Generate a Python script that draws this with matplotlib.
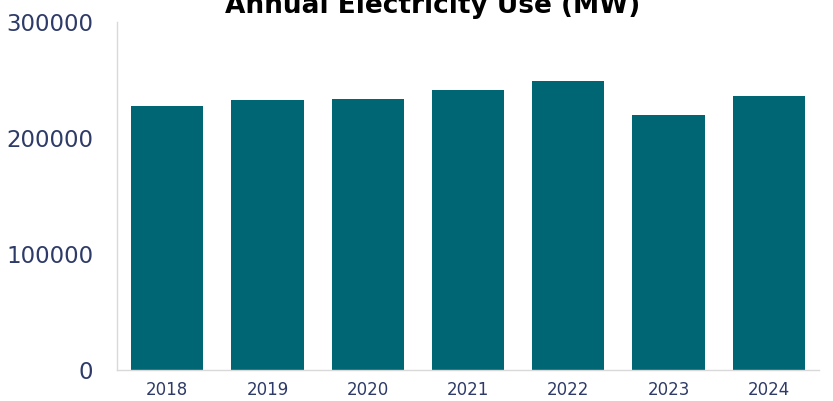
import matplotlib.pyplot as plt

years = ["2018", "2019", "2020", "2021", "2022", "2023", "2024"]
usage_mw = [228000, 232500, 233600, 241600, 248900, 219500, 236200]
y_ticks = [0, 100000, 200000, 300000]

BAR_COLOR = "#006674"
TEXT_NAVY = "#2e3b68"

fig = plt.figure(figsize=(8.33, 4.01), dpi=100)
ax = fig.add_axes([0.1405, 0.0773, 0.8425, 0.8677])

ax.bar(range(len(years)), usage_mw, width=0.72, color=BAR_COLOR)
ax.set_xlim(-0.5, len(years) - 0.5)
ax.set_ylim(0, 300000)

ax.set_yticks(y_ticks)
ax.set_yticklabels([str(v) for v in y_ticks])
ax.set_xticks(range(len(years)))
ax.set_xticklabels(years)

ax.tick_params(axis="y", length=0, pad=17, labelsize=16.5, labelcolor=TEXT_NAVY)
ax.tick_params(axis="x", length=0, pad=8, labelsize=12, labelcolor=TEXT_NAVY)

for side in ("top", "right"):
    ax.spines[side].set_visible(False)
for side in ("left", "bottom"):
    ax.spines[side].set_color("#d9d9d9")
    ax.spines[side].set_linewidth(1.0)

# title sits partly above the figure edge, as in the source image
fig.text(0.519, 1 - 13 / 401, "Annual Electricity Use (MW)",
         ha="center", va="baseline", fontsize=19, fontweight="bold", color="black")

fig.savefig("out.png", dpi=100)
